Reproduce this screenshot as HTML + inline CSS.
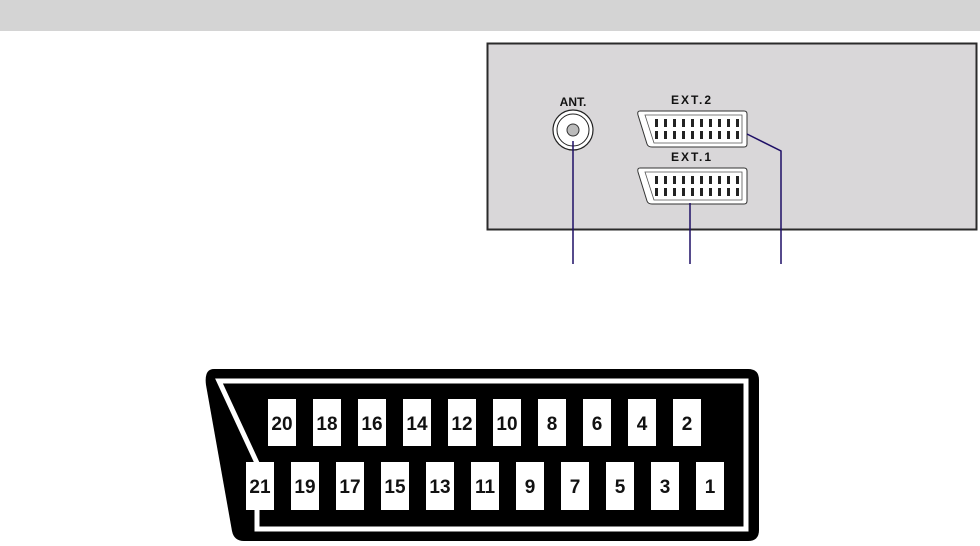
<!DOCTYPE html>
<html><head><meta charset="utf-8"><style>
html,body{margin:0;padding:0;background:#fff;}
svg{display:block;}
text{font-family:"Liberation Sans",Arial,sans-serif;font-weight:bold;}
</style></head><body>
<svg width="980" height="546" viewBox="0 0 980 546" xmlns="http://www.w3.org/2000/svg">
<rect x="0" y="0" width="980" height="31" fill="#d4d4d4"/>
<rect x="487.5" y="43.5" width="489" height="186" fill="#d9d7d9" stroke="#2a2a2a" stroke-width="2"/>
<text x="573" y="106" font-size="12" text-anchor="middle" fill="#111">ANT.</text>
<circle cx="573" cy="130" r="20" fill="#fff" stroke="#222" stroke-width="1.2"/>
<circle cx="573" cy="130" r="16" fill="#fff" stroke="#222" stroke-width="1"/>
<circle cx="573" cy="130" r="6" fill="#bbb" stroke="#333" stroke-width="1"/>
<text x="692" y="104" font-size="12" text-anchor="middle" fill="#111" letter-spacing="2">EXT.2</text>
<text x="692" y="161" font-size="12" text-anchor="middle" fill="#111" letter-spacing="2">EXT.1</text>
<g>
<path d="M640 111 L744 111 Q747 111 747 114 L747 144 Q747 147 744 147 L652 147 Q648 147 647 144 L638 115 Q637 111 640 111 Z" fill="#fff" stroke="#333" stroke-width="1"/>
<path d="M645 115 L742 115 L742 143 L654 143 Z" fill="none" stroke="#555" stroke-width="0.8"/>
</g>
<g transform="translate(0,57)">
<path d="M640 111 L744 111 Q747 111 747 114 L747 144 Q747 147 744 147 L652 147 Q648 147 647 144 L638 115 Q637 111 640 111 Z" fill="#fff" stroke="#333" stroke-width="1"/>
<path d="M645 115 L742 115 L742 143 L654 143 Z" fill="none" stroke="#555" stroke-width="0.8"/>
</g>
<g fill="#222">
<g>
<rect x="655" y="119" width="3" height="8"/><rect x="664" y="119" width="3" height="8"/><rect x="673" y="119" width="3" height="8"/><rect x="682" y="119" width="3" height="8"/><rect x="691" y="119" width="3" height="8"/><rect x="700" y="119" width="3" height="8"/><rect x="709" y="119" width="3" height="8"/><rect x="718" y="119" width="3" height="8"/><rect x="727" y="119" width="3" height="8"/><rect x="736" y="119" width="3" height="8"/>
<rect x="655" y="131" width="3" height="8"/><rect x="664" y="131" width="3" height="8"/><rect x="673" y="131" width="3" height="8"/><rect x="682" y="131" width="3" height="8"/><rect x="691" y="131" width="3" height="8"/><rect x="700" y="131" width="3" height="8"/><rect x="709" y="131" width="3" height="8"/><rect x="718" y="131" width="3" height="8"/><rect x="727" y="131" width="3" height="8"/><rect x="736" y="131" width="3" height="8"/>
</g>
<g transform="translate(0,57)">
<rect x="655" y="119" width="3" height="8"/><rect x="664" y="119" width="3" height="8"/><rect x="673" y="119" width="3" height="8"/><rect x="682" y="119" width="3" height="8"/><rect x="691" y="119" width="3" height="8"/><rect x="700" y="119" width="3" height="8"/><rect x="709" y="119" width="3" height="8"/><rect x="718" y="119" width="3" height="8"/><rect x="727" y="119" width="3" height="8"/><rect x="736" y="119" width="3" height="8"/>
<rect x="655" y="131" width="3" height="8"/><rect x="664" y="131" width="3" height="8"/><rect x="673" y="131" width="3" height="8"/><rect x="682" y="131" width="3" height="8"/><rect x="691" y="131" width="3" height="8"/><rect x="700" y="131" width="3" height="8"/><rect x="709" y="131" width="3" height="8"/><rect x="718" y="131" width="3" height="8"/><rect x="727" y="131" width="3" height="8"/><rect x="736" y="131" width="3" height="8"/>
</g>
</g>
<g stroke="#1e0f66" stroke-width="1.5" fill="none">
<line x1="573" y1="141" x2="573" y2="264"/>
<line x1="690" y1="203" x2="690" y2="264"/>
<polyline points="747,134 781,151 781,264"/>
</g>
<path d="M214 369 L748 369 Q759 369 759 380 L759 530 Q759 541 748 541 L244 541 Q234 541 232 531 L206 385 Q204 369 214 369 Z" fill="#000"/>
<polygon points="219,381 746,381 746,529 257,529 257,463" fill="#000" stroke="#fff" stroke-width="5" stroke-linejoin="miter"/>
<g fill="#fff">
<rect x="268" y="399" width="28" height="47"/><rect x="313" y="399" width="28" height="47"/><rect x="358" y="399" width="28" height="47"/><rect x="403" y="399" width="28" height="47"/><rect x="448" y="399" width="28" height="47"/><rect x="493" y="399" width="28" height="47"/><rect x="538" y="399" width="28" height="47"/><rect x="583" y="399" width="28" height="47"/><rect x="628" y="399" width="28" height="47"/><rect x="673" y="399" width="28" height="47"/>
<rect x="246" y="462" width="28" height="48"/><rect x="291" y="462" width="28" height="48"/><rect x="336" y="462" width="28" height="48"/><rect x="381" y="462" width="28" height="48"/><rect x="426" y="462" width="28" height="48"/><rect x="471" y="462" width="28" height="48"/><rect x="516" y="462" width="28" height="48"/><rect x="561" y="462" width="28" height="48"/><rect x="606" y="462" width="28" height="48"/><rect x="651" y="462" width="28" height="48"/><rect x="696" y="462" width="28" height="48"/>
</g>
<g font-size="19" fill="#111" text-anchor="middle">
<text x="282" y="430">20</text><text x="327" y="430">18</text><text x="372" y="430">16</text><text x="417" y="430">14</text><text x="462" y="430">12</text><text x="507" y="430">10</text><text x="552" y="430">8</text><text x="597" y="430">6</text><text x="642" y="430">4</text><text x="687" y="430">2</text>
<text x="260" y="493">21</text><text x="305" y="493">19</text><text x="350" y="493">17</text><text x="395" y="493">15</text><text x="440" y="493">13</text><text x="485" y="493">11</text><text x="530" y="493">9</text><text x="575" y="493">7</text><text x="620" y="493">5</text><text x="665" y="493">3</text><text x="710" y="493">1</text>
</g>
</svg>
</body></html>
